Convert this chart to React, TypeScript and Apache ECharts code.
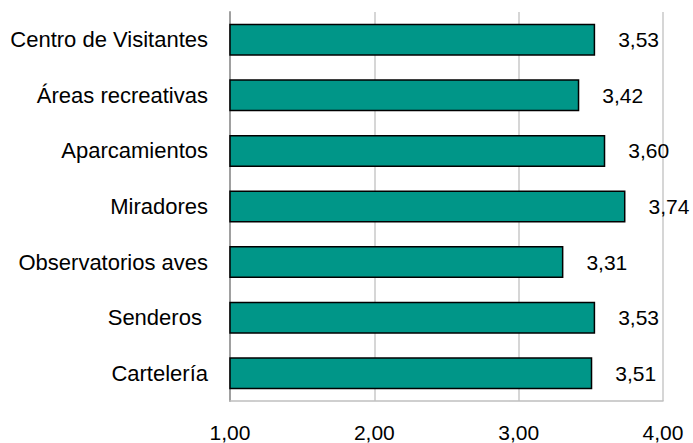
import React, { useEffect, useRef } from "react";
import * as echarts from "echarts";

const categories = [
  "Centro de Visitantes",
  "Áreas recreativas",
  "Aparcamientos",
  "Miradores",
  "Observatorios aves",
  "Senderos ",
  "Cartelería",
];
const values = [3.53, 3.42, 3.6, 3.74, 3.31, 3.53, 3.51];
const axisMin = 1;
const axisMax = 4;
const axisInterval = 1;

const fmt = (v: number) => v.toFixed(2).replace(".", ",");

export default function App() {
  const ref = useRef<HTMLDivElement>(null);
  useEffect(() => {
    if (!ref.current) return;
    const chart = echarts.init(ref.current, null, { renderer: "svg" });
    const font = "'Liberation Sans', Arial, sans-serif";
    chart.setOption({
      animation: false,
      grid: { left: 230, right: 30, top: 12, bottom: 39, containLabel: false },
      xAxis: {
        type: "value",
        min: axisMin,
        max: axisMax,
        interval: axisInterval,
        axisLine: { show: true, lineStyle: { color: "#bfbfbf", width: 1.5 } },
        axisTick: { show: false },
        splitLine: { show: true, lineStyle: { color: "#c8c8c8", width: 1.5 } },
        axisLabel: {
          formatter: (v: number) => fmt(v),
          color: "#000",
          fontSize: 21,
          fontFamily: font,
          margin: 21,
        },
      },
      yAxis: {
        type: "category",
        data: categories,
        inverse: true,
        axisLine: { show: true, lineStyle: { color: "#a0a0a0", width: 2 } },
        axisTick: { show: false },
        splitLine: { show: false },
        axisLabel: {
          color: "#000",
          fontSize: 22,
          fontFamily: font,
          margin: 22,
        },
      },
      series: [
        {
          type: "bar",
          data: values,
          barWidth: 32,
          itemStyle: { color: "#009688", borderColor: "#000", borderWidth: 1.5 },
          label: {
            show: true,
            position: "right",
            distance: 23,
            formatter: (p: any) => fmt(p.value),
            color: "#000",
            fontSize: 21,
            fontFamily: font,
          },
        },
      ],
    });
    return () => chart.dispose();
  }, []);
  return (
    <div
      ref={ref}
      style={{ position: "absolute", left: 0, top: 0, width: 693, height: 443 }}
    />
  );
}
